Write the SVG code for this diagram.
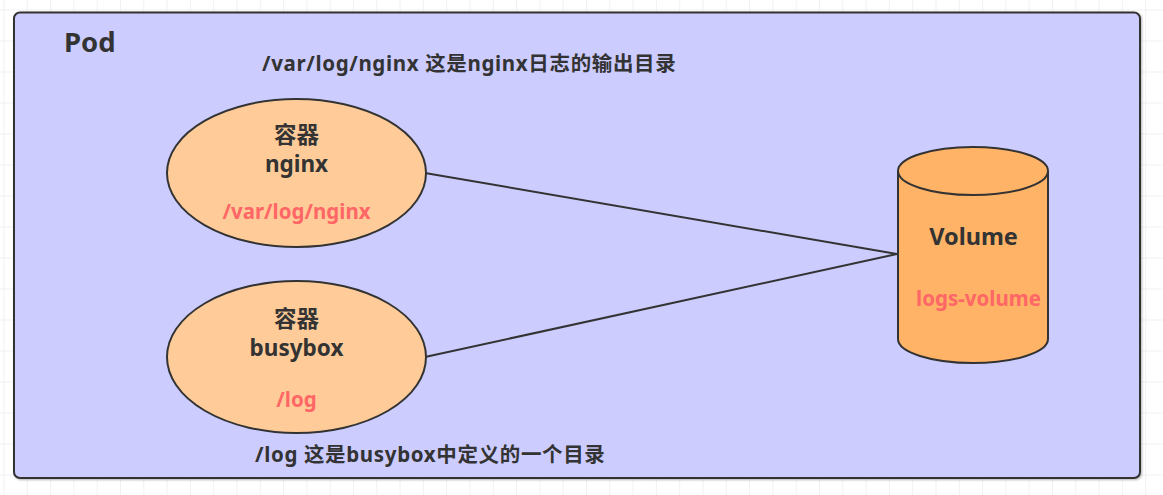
<svg xmlns="http://www.w3.org/2000/svg" width="1163" height="495" viewBox="0 0 1163 495">
  <defs>
    <pattern id="grid" x="3.5" y="9.5" width="23.3" height="31" patternUnits="userSpaceOnUse">
      <path d="M0 0 H23.3 M0 0 V31" fill="none" stroke="#e4e4e4" stroke-width="1"/>
    </pattern>
    <filter id="sh" x="-5%" y="-5%" width="110%" height="110%">
      <feDropShadow dx="1" dy="1" stdDeviation="1" flood-color="#000" flood-opacity="0.3"/>
    </filter>
  </defs>
  <style>
    text { font-family: "Noto Sans", "Noto Sans CJK SC", sans-serif; font-weight: bold; fill: #333333; }
    .lbl { font-size: 22.5px; text-anchor: middle; }
    .red { font-size: 20.5px; fill: #ff6666; text-anchor: middle; }
    .note { font-size: 20.5px; letter-spacing: 0.65px; }
    .shape { stroke: #333333; stroke-width: 2; }
    .conn { stroke: #333333; stroke-width: 2; fill: none; }
  </style>
  <rect width="1163" height="495" fill="#ffffff"/>
  <rect width="1163" height="495" fill="url(#grid)"/>

  <g id="pod">
    <rect x="14" y="12.5" width="1126" height="465.5" rx="6" fill="#ccccff" class="shape" filter="url(#sh)"/>
    <text x="64" y="52" style="font-size:27.5px">Pod</text>
    <text x="262" y="71" class="note">/var/log/nginx 这是nginx日志的输出目录</text>
    <text x="255" y="462" class="note">/log 这是busybox中定义的一个目录</text>
  </g>

  <g id="connectors">
    <line x1="425" y1="173" x2="897" y2="254" class="conn"/>
    <line x1="425" y1="357" x2="897" y2="254" class="conn"/>
  </g>

  <g id="nginx">
    <ellipse cx="296.5" cy="173" rx="129.5" ry="74" fill="#ffcc99" class="shape"/>
    <text x="296.5" y="143" class="lbl">容器</text>
    <text x="296.5" y="172" class="lbl">nginx</text>
    <text x="296.5" y="219" class="red">/var/log/nginx</text>
  </g>

  <g id="busybox">
    <ellipse cx="296.5" cy="357" rx="129.5" ry="76" fill="#ffcc99" class="shape"/>
    <text x="296.5" y="327" class="lbl">容器</text>
    <text x="296.5" y="356" class="lbl">busybox</text>
    <text x="296.5" y="407" class="red">/log</text>
  </g>

  <g id="volume">
    <path d="M898 171 A75 24 0 0 1 1048 171 V339 A75 24 0 0 1 898 339 Z" fill="#ffb366" class="shape"/>
    <path d="M898 171 A75 24 0 0 0 1048 171" fill="none" class="shape"/>
    <text x="973.5" y="245" class="lbl" style="font-size:23.5px">Volume</text>
    <text x="978.5" y="306" class="red">logs-volume</text>
  </g>
</svg>
